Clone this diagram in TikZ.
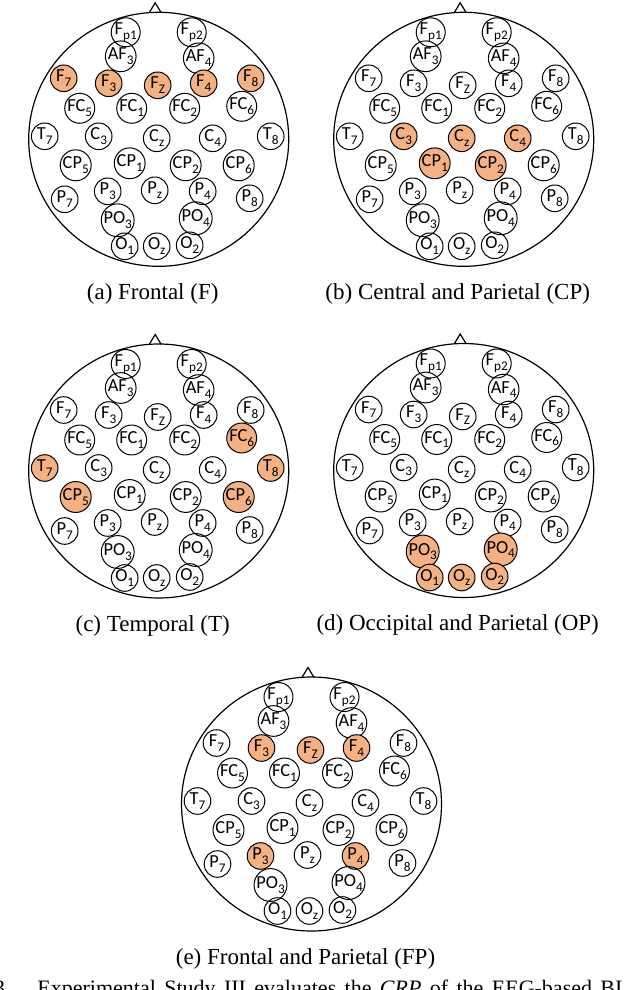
\documentclass[tikz,border=0pt]{standalone}
\usepackage{fontspec}
\setmainfont{Liberation Serif}
\newfontfamily\elfont{Carlito}
\definecolor{eegorange}{RGB}{244,177,131}
\newcommand{\elsub}[1]{\raisebox{-2.4pt}{\fontsize{6.6}{6}\selectfont #1}}
% name / x / y / label, relative to Cz
\newcommand{\eegsites}{%
  Fp1/-31/-106/F\elsub{p1}, Fp2/35/-106/F\elsub{p2},
  AF3/-36/-82/AF\elsub{3}, AF4/42/-80/AF\elsub{4},
  F7/-93/-60/F\elsub{7}, F3/-48/-55/F\elsub{3}, Fz/1/-53/F\elsub{Z}, F4/47/-55/F\elsub{4}, F8/94/-60/F\elsub{8},
  FC5/-77/-30/FC\elsub{5}, FC1/-25/-30/FC\elsub{1}, FC2/28/-30/FC\elsub{2}, FC6/85/-32/FC\elsub{6},
  T7/-112/-2/T\elsub{7}, C3/-58/-2/C\elsub{3}, Cz/0/0/C\elsub{z}, C4/56/0/C\elsub{4}, T8/114/-2/T\elsub{8},
  CP5/-81/27/CP\elsub{5}, CP1/-27/25/CP\elsub{1}, CP2/29/27/CP\elsub{2}, CP6/82/27/CP\elsub{6},
  P7/-92/61/P\elsub{7}, P3/-49/53/P\elsub{3}, Pz/-2/52/P\elsub{z}, P4/46/53/P\elsub{4}, P8/93/60/P\elsub{8},
  PO3/-39/82/PO\elsub{3}, PO4/39/80/PO\elsub{4},
  O1/-32/108/O\elsub{1}, Oz/0/108/O\elsub{z}, O2/33/107/O\elsub{2}}
\newcommand{\widespace}{\spaceskip=4.2pt\relax}
\tikzset{
  elec/.style={circle,draw,line width=.5pt,minimum size=13.3pt,inner sep=0pt,
    font=\elfont\fontsize{9.2}{9}\selectfont},
  head/.style={line width=.6pt},
  subcap/.style={anchor=base,font=\fontsize{11.5}{13}\selectfont},
  figtext/.style={inner sep=0pt,font=\fontsize{11}{13}\selectfont},
  hotlist/.style={#1/.style={fill=eegorange}},
  hotlist/.list={a-F7,a-F3,a-Fz,a-F4,a-F8,
    b-C3,b-Cz,b-C4,b-CP1,b-CP2,
    c-FC6,c-T7,c-T8,c-CP5,c-CP6,
    d-PO3,d-PO4,d-O1,d-Oz,d-O2,
    e-F3,e-Fz,e-F4,e-P3,e-P4}
}

\begin{document}
\begin{tikzpicture}[x=.5pt,y=-.5pt]
  \useasboundingbox (0,0) rectangle (628,990);
  \foreach \p/\cx/\cy/\cap in {a/156.7/138.3/{Frontal (F)},
      b/461.7/138.3/{Central and Parietal (CP)},
      c/156.7/470/{Temporal (T)},
      d/461.7/469.5/{Occipital and Parietal (OP)},
      e/309.5/803/{Frontal and Parietal (FP)}}{
    \begin{scope}[shift={(\cx,\cy)}]
      \draw[head] (2,1) ellipse [x radius=130,y radius=127];
      \draw[head] (-7.5,-125.6) -- (-1.5,-135.5) -- (4.5,-125.6);
      \foreach \n/\ex/\ey/\lab in \eegsites
        \node[elec,\p-\n/.try] (\p-\n) at (\ex,\ey) {\lab};
      \node[subcap] (cap-\p) at (-4,161.4) {(\p) \cap};
    \end{scope}
  }
  % figure caption, cut off by the page edge
  \begin{scope}
    \clip (0,0) rectangle (628,990);
    \node[figtext,anchor=base east] (fignum) at (11,995.5) {Fig.~3.};
    \node[figtext,anchor=base west] (figcap) at (37,995.5)
      {\widespace Experimental Study III evaluates the \textit{CRP} of the EEG-based BI};
  \end{scope}
\end{tikzpicture}
\end{document}
